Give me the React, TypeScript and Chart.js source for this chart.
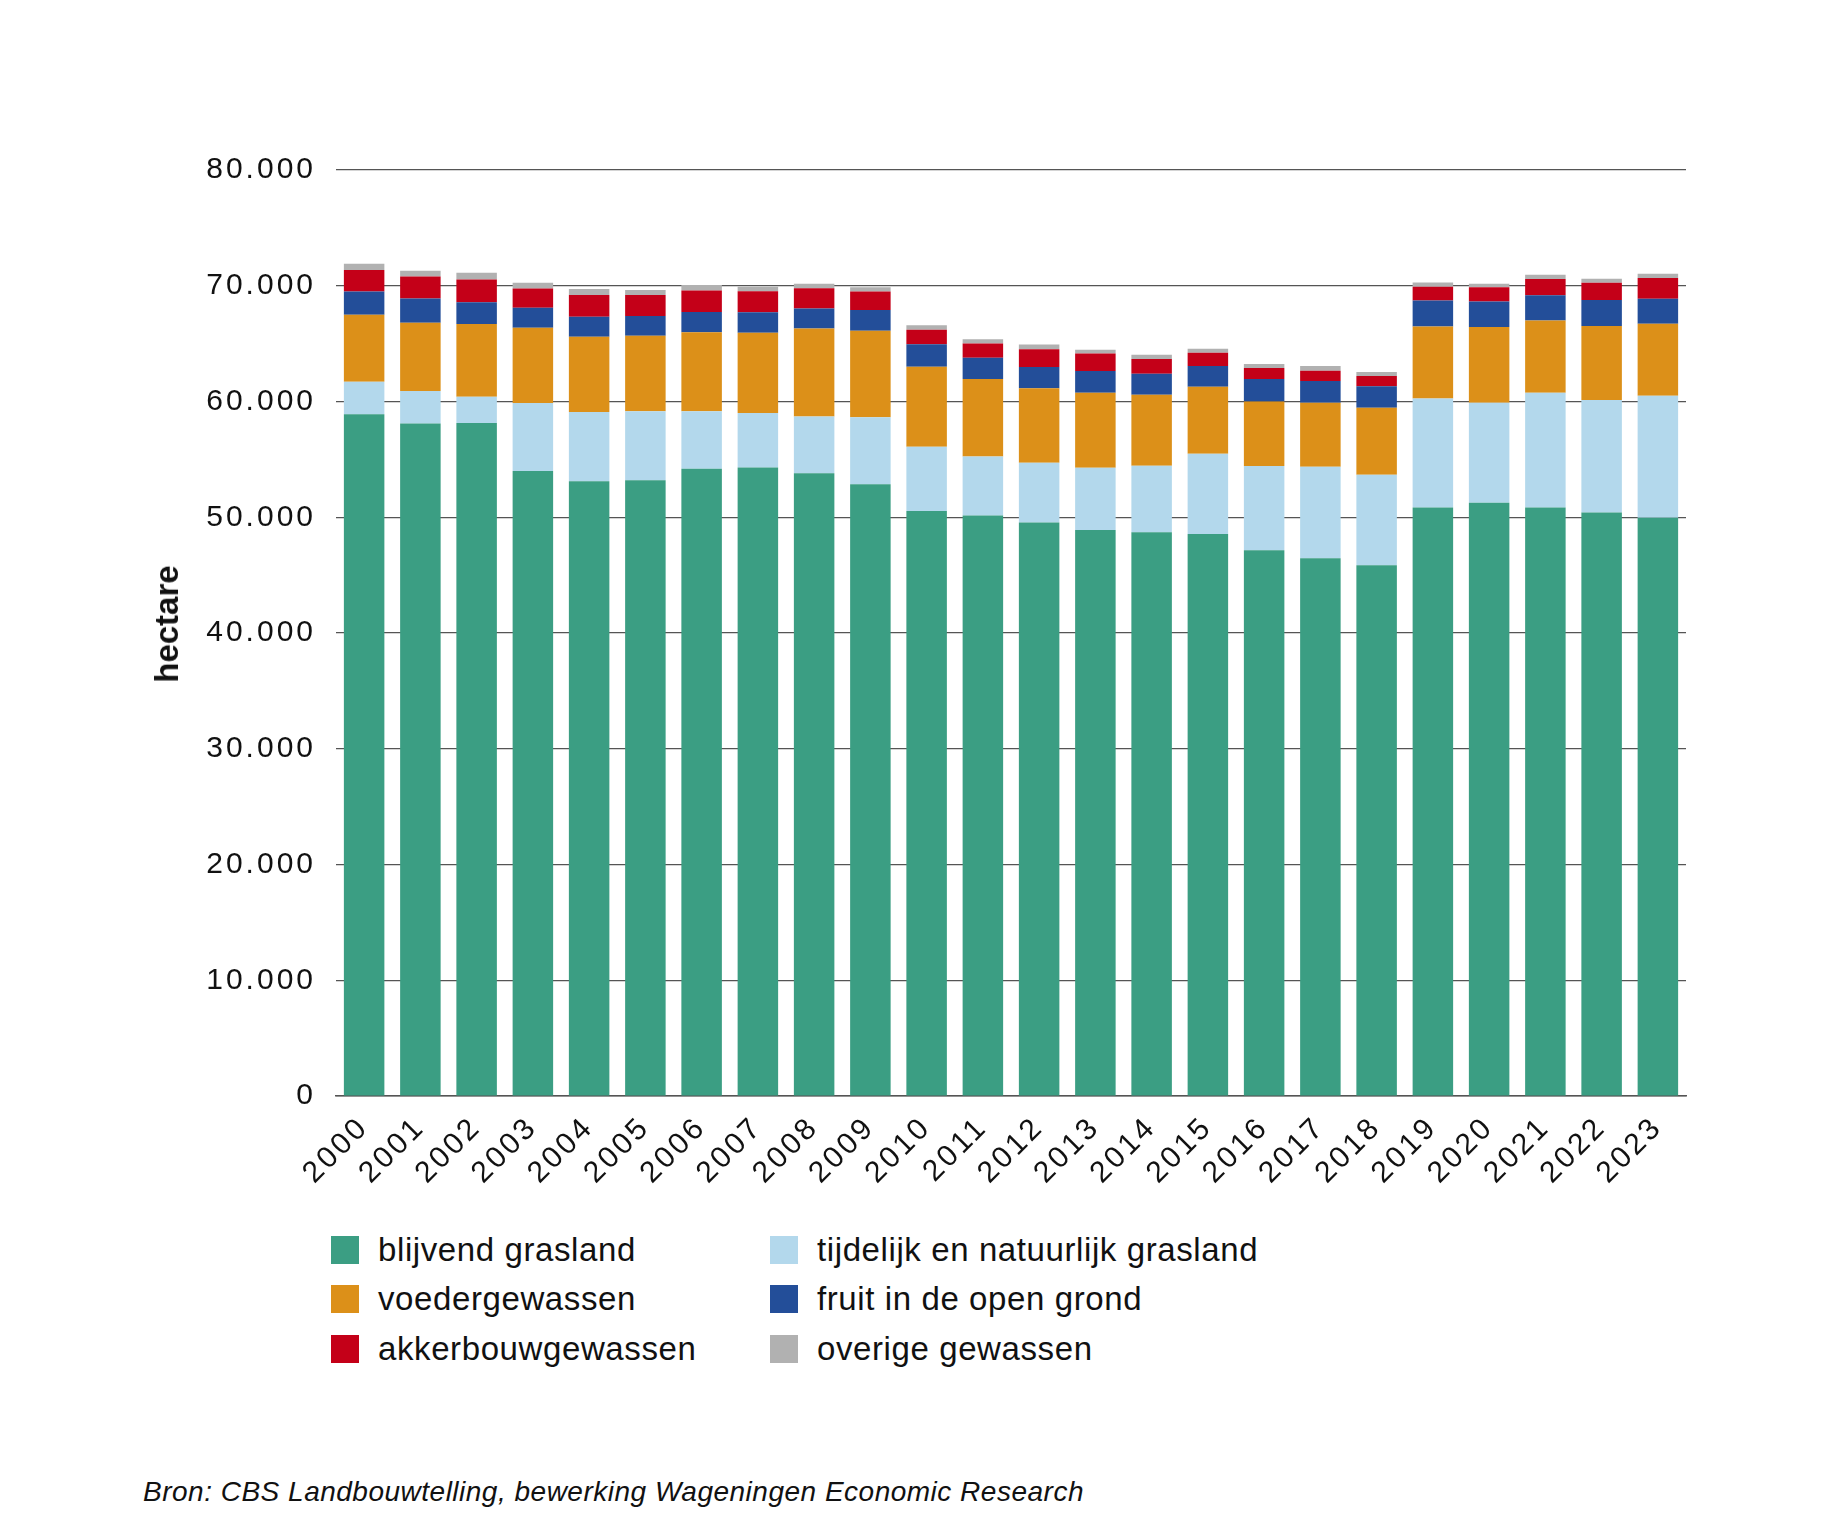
import React, { useEffect, useRef } from "react";
import { Chart, registerables } from "chart.js";

Chart.register(...registerables);

const years = ["2000","2001","2002","2003","2004","2005","2006","2007","2008","2009","2010","2011","2012","2013","2014","2015","2016","2017","2018","2019","2020","2021","2022","2023"];

const blijvendGrasland = [58900, 58100, 58150, 54000, 53100, 53200, 54200, 54300, 53800, 52850, 50550, 50150, 49550, 48900, 48700, 48550, 47150, 46450, 45850, 50850, 51250, 50850, 50400, 49950];
const tijdelijkGrasland = [2800, 2800, 2270, 5870, 6000, 5960, 4960, 4700, 4900, 5780, 5530, 5100, 5150, 5380, 5760, 6940, 7280, 7920, 7830, 9400, 8650, 9900, 9730, 10550];
const voedergewassen = [5800, 5900, 6280, 6500, 6500, 6530, 6820, 6940, 7600, 7490, 6930, 6700, 6450, 6480, 6130, 5790, 5580, 5530, 5790, 6220, 6540, 6240, 6390, 6220];
const fruitOpenGrond = [2000, 2100, 1870, 1730, 1730, 1700, 1750, 1780, 1730, 1790, 1930, 1840, 1840, 1870, 1810, 1790, 1930, 1870, 1840, 2250, 2210, 2190, 2240, 2160];
const akkerbouwgewassen = [1850, 1900, 1960, 1670, 1870, 1810, 1870, 1810, 1750, 1600, 1260, 1230, 1530, 1520, 1270, 1150, 950, 890, 900, 1200, 1210, 1410, 1490, 1790];
const overigeGewassen = [550, 500, 600, 490, 520, 430, 460, 380, 400, 350, 380, 350, 400, 320, 370, 345, 350, 400, 345, 350, 320, 350, 345, 370];

const yTicks = [0, 10000, 20000, 30000, 40000, 50000, 60000, 70000, 80000];

const seriesNames = [
  "blijvend grasland",
  "tijdelijk en natuurlijk grasland",
  "voedergewassen",
  "fruit in de open grond",
  "akkerbouwgewassen",
  "overige gewassen",
];
const seriesColors = ["#3b9e83", "#b3d8ec", "#dc9019", "#234e99", "#c40018", "#b1b1b1"];
const seriesData = [blijvendGrasland, tijdelijkGrasland, voedergewassen, fruitOpenGrond, akkerbouwgewassen, overigeGewassen];

// legend layout: two columns
const legendCol1 = [0, 2, 4];
const legendCol2 = [1, 3, 5];

const fmt = (v: number) => String(v).replace(/\B(?=(\d{3})+(?!\d))/g, ".");

const spacingPlugin = {
  id: "spacing",
  beforeDraw(chart: any) {
    chart.ctx.letterSpacing = "3px";
  },
  afterDraw(chart: any) {
    chart.ctx.letterSpacing = "0px";
  },
};

function BarChart() {
  const ref = useRef<HTMLCanvasElement | null>(null);
  useEffect(() => {
    if (!ref.current) return;
    const chart = new Chart(ref.current, {
      type: "bar",
      data: {
        labels: years,
        datasets: seriesData.map((d, i) => ({
          label: seriesNames[i],
          data: d,
          backgroundColor: seriesColors[i],
          borderWidth: 0,
          barPercentage: 0.72,
          categoryPercentage: 1,
        })),
      },
      options: {
        animation: false,
        responsive: false,
        maintainAspectRatio: false,
        devicePixelRatio: 1,
        layout: { padding: { top: 170, left: 0, right: 145, bottom: 0 } },
        plugins: { legend: { display: false }, tooltip: { enabled: false }, title: { display: false } },
        scales: {
          x: {
            stacked: true,
            grid: { display: false, drawTicks: false },
            border: { display: true, color: "#555", width: 1.5 },
            ticks: {
              color: "#111",
              font: { family: "Liberation Sans", size: 30 },
              minRotation: 45,
              maxRotation: 45,
              padding: 14,
              autoSkip: false,
            },
            afterFit(scale: any) {
              scale.height = 104;
            },
          },
          y: {
            stacked: true,
            min: 0,
            max: 80000,
            afterBuildTicks(scale: any) {
              scale.ticks = yTicks.map((v) => ({ value: v }));
            },
            grid: { color: "#555", lineWidth: 1.2, drawTicks: false },
            border: { display: false },
            ticks: {
              color: "#111",
              font: { family: "Liberation Sans", size: 30 },
              padding: 20,
              callback: (v: any) => fmt(Number(v)),
            },
            afterFit(scale: any) {
              scale.width = 336;
            },
          },
        },
      },
      plugins: [spacingPlugin],
    } as any);
    return () => chart.destroy();
  }, []);
  return <canvas ref={ref} width={1831} height={1200} style={{ position: "absolute", left: 0, top: 0, width: 1831, height: 1200 }} />;
}

function LegendItem({ idx, left, top }: { idx: number; left: number; top: number }) {
  return (
    <div style={{ position: "absolute", left, top, height: 40, display: "flex", alignItems: "center" }}>
      <div style={{ width: 28, height: 28, background: seriesColors[idx], marginRight: 19 }} />
      <span style={{ fontFamily: "Liberation Sans", fontSize: 33, letterSpacing: "0.6px", color: "#111", whiteSpace: "nowrap" }}>
        {seriesNames[idx]}
      </span>
    </div>
  );
}

export default function App() {
  const rowTops = [1230, 1279, 1329];
  return (
    <div style={{ position: "absolute", left: 0, top: 0, width: 1831, height: 1516, background: "#fff", overflow: "hidden" }}>
      <BarChart />
      <div
        style={{
          position: "absolute",
          left: 167,
          top: 624,
          transform: "translate(-50%, -50%) rotate(-90deg)",
          fontFamily: "Liberation Sans",
          fontWeight: "bold",
          fontSize: 33,
          color: "#111",
          whiteSpace: "nowrap",
        }}
      >
        hectare
      </div>
      {legendCol1.map((idx, r) => (
        <LegendItem key={"a" + idx} idx={idx} left={331} top={rowTops[r]} />
      ))}
      {legendCol2.map((idx, r) => (
        <LegendItem key={"b" + idx} idx={idx} left={770} top={rowTops[r]} />
      ))}
      <div
        style={{
          position: "absolute",
          left: 143,
          top: 1476,
          fontFamily: "Liberation Sans",
          fontStyle: "italic",
          fontSize: 28,
          letterSpacing: "0.5px",
          color: "#111",
          whiteSpace: "nowrap",
        }}
      >
        Bron: CBS Landbouwtelling, bewerking Wageningen Economic Research
      </div>
    </div>
  );
}
